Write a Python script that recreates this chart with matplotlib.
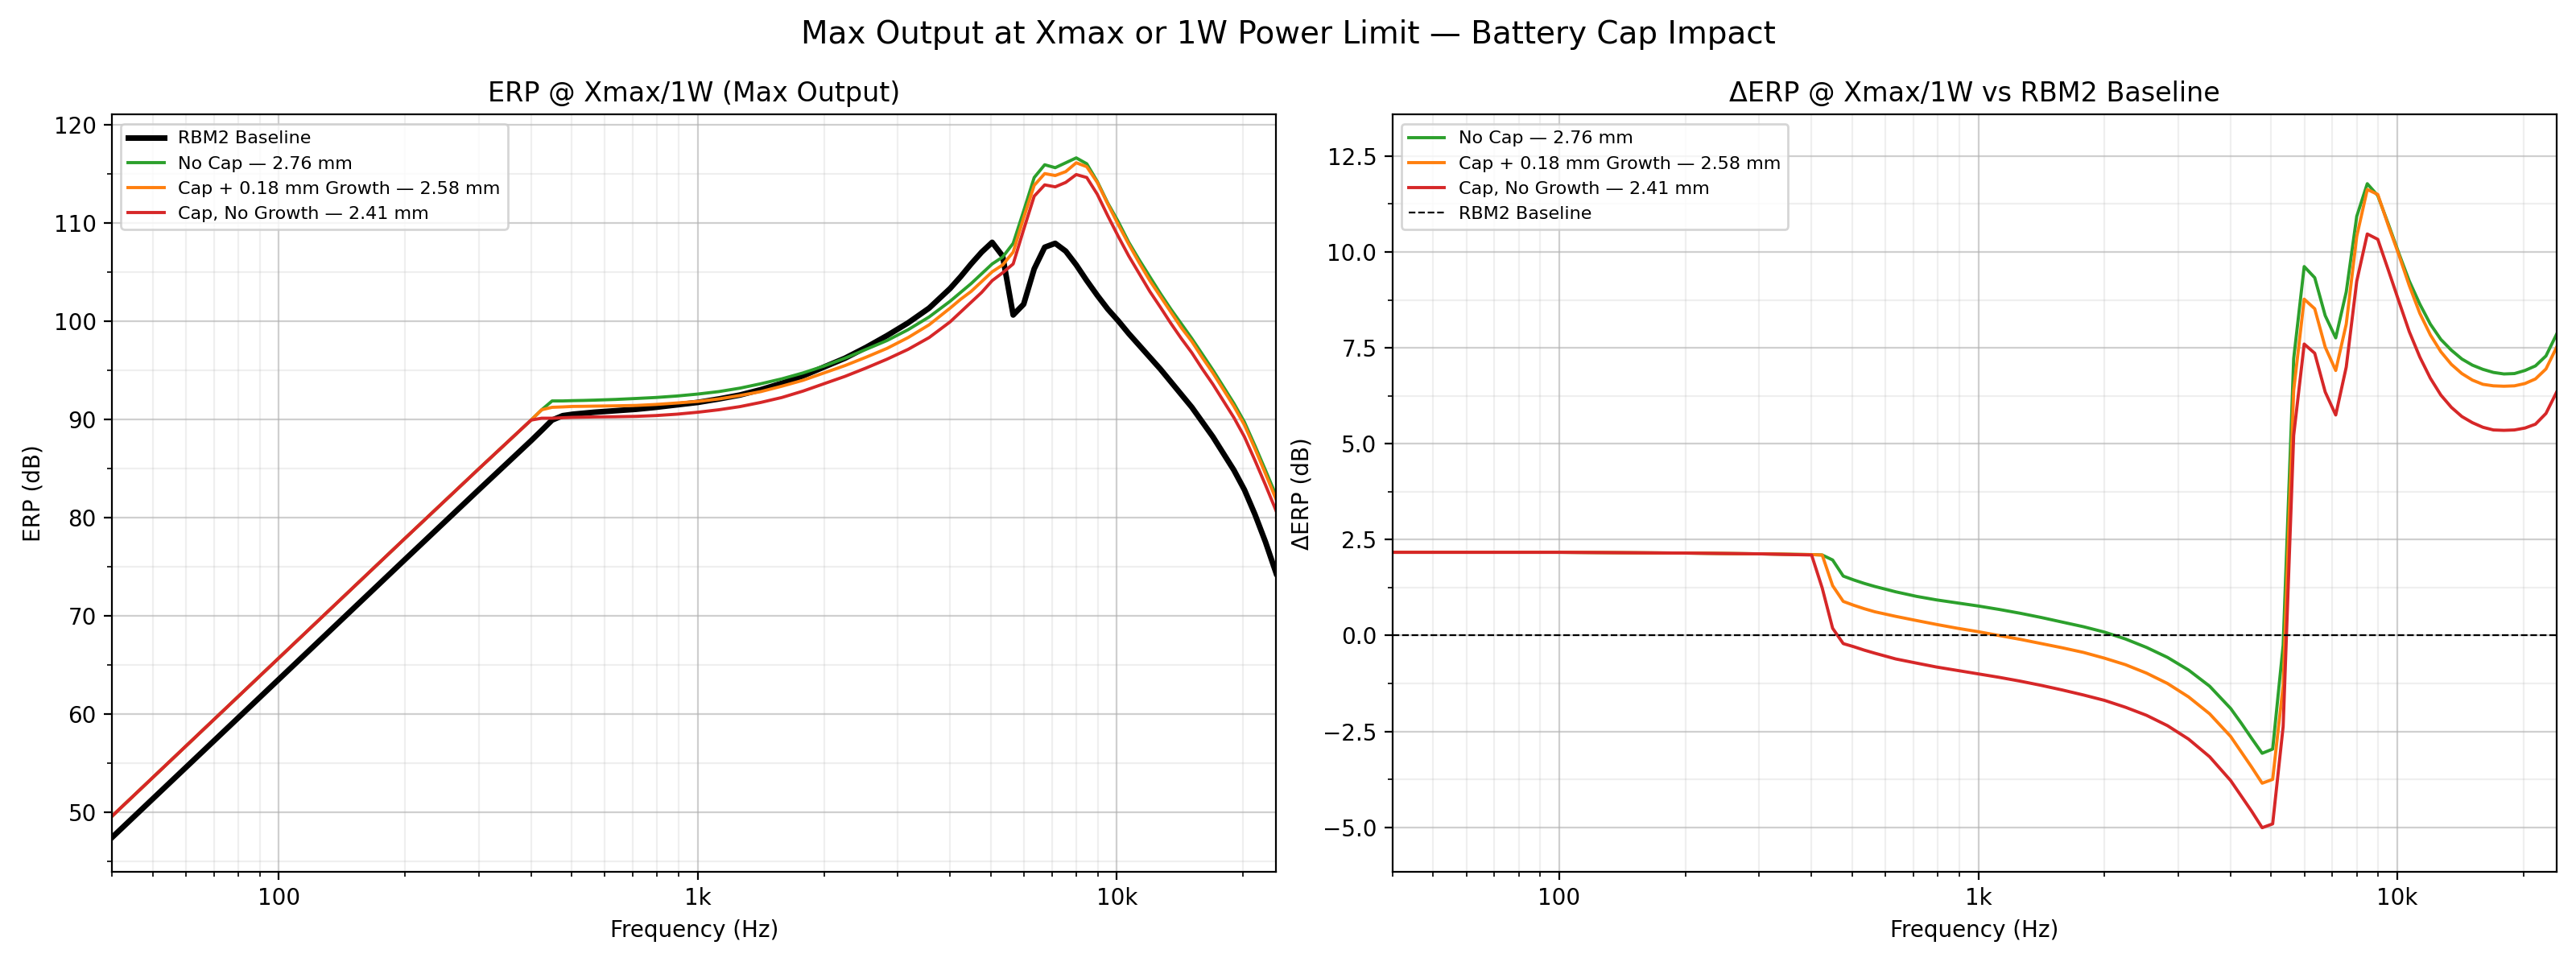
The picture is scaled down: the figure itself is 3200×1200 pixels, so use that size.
import numpy as np
import matplotlib
matplotlib.use("Agg")
from matplotlib import pyplot as plt
from matplotlib.ticker import AutoMinorLocator, FixedLocator, NullFormatter

# frequency grid (Hz)
freq = [40, 100, 200, 300, 400, 424, 449, 476, 504, 534, 566, 635, 713, 794, 891,
        1000, 1122, 1260, 1414, 1587, 1782, 2000, 2245, 2520, 2828, 3175, 3564,
        4000, 4238, 4490, 4757, 5040, 5339, 5657, 5993, 6350, 6727, 7127, 7551,
        8000, 8476, 8980, 9514, 10079, 10679, 11314, 11986, 12699, 13454, 14254,
        15102, 16000, 16951, 17959, 19027, 20159, 21357, 22627, 24000]

# ERP at Xmax / 1W (dB)
erp_base = [47.4, 63.5, 75.7, 82.8, 87.8, 88.85, 89.9, 90.35, 90.5, 90.6, 90.7, 90.85, 91.0, 91.2, 91.45,
            91.7, 92.05, 92.45, 93.0, 93.65, 94.4, 95.3, 96.2, 97.3, 98.5, 99.8, 101.3,
            103.3, 104.5, 105.8, 107.0, 108.0, 106.6, 100.6, 101.7, 105.3, 107.5, 107.9, 107.1,
            105.7, 104.1, 102.6, 101.2, 100.0, 98.7, 97.5, 96.3, 95.1, 93.8, 92.5,
            91.2, 89.7, 88.2, 86.5, 84.8, 82.8, 80.3, 77.5, 74.3]
erp_nocap = [49.57, 65.67, 77.85, 84.93, 89.9, 90.95, 91.85, 91.85, 91.88, 91.9, 91.93, 92.0, 92.1, 92.2, 92.35,
             92.55, 92.8, 93.15, 93.6, 94.1, 94.7, 95.4, 96.2, 97.1, 98.0, 99.1, 100.4,
             102.0, 102.9, 103.8, 104.8, 105.8, 106.5, 107.9, 111.2, 114.6, 115.9, 115.6, 116.1,
             116.6, 116.0, 114.2, 112.0, 110.1, 108.0, 106.2, 104.5, 102.8, 101.2, 99.7,
             98.2, 96.6, 95.0, 93.3, 91.6, 89.7, 87.3, 84.8, 82.2]
erp_growth = [49.57, 65.67, 77.85, 84.93, 89.9, 90.95, 91.2, 91.24, 91.29, 91.3, 91.32, 91.35, 91.39, 91.49, 91.64,
              91.8, 92.05, 92.4, 92.8, 93.35, 93.95, 94.7, 95.45, 96.3, 97.2, 98.3, 99.6,
              101.3, 102.2, 103.0, 104.0, 105.0, 105.7, 107.0, 110.5, 113.8, 115.0, 114.8, 115.2,
              116.1, 115.7, 114.1, 111.9, 109.8, 107.8, 105.9, 104.1, 102.5, 100.9, 99.3,
              97.9, 96.25, 94.7, 93.0, 91.3, 89.4, 87.0, 84.45, 81.8]
erp_nogrowth = [49.57, 65.67, 77.85, 84.93, 89.9, 90.09, 90.09, 90.14, 90.18, 90.2, 90.22, 90.24, 90.28, 90.36, 90.5,
                90.7, 90.95, 91.27, 91.7, 92.2, 92.85, 93.6, 94.35, 95.2, 96.1, 97.1, 98.3,
                99.9, 100.9, 101.9, 102.9, 104.1, 104.9, 105.8, 109.3, 112.7, 113.85, 113.65, 114.1,
                114.9, 114.6, 112.9, 110.7, 108.6, 106.6, 104.8, 103.0, 101.4, 99.75, 98.2,
                96.75, 95.1, 93.55, 91.85, 90.15, 88.2, 85.8, 83.3, 80.65]

# delta ERP vs RBM2 baseline (dB)
d_nocap = [2.17, 2.17, 2.15, 2.13, 2.11, 2.10, 1.97, 1.55, 1.45, 1.36, 1.28, 1.14, 1.02, 0.93, 0.85,
           0.77, 0.68, 0.58, 0.47, 0.35, 0.23, 0.09, -0.09, -0.31, -0.57, -0.90, -1.32,
           -1.90, -2.28, -2.68, -3.07, -2.96, -0.25, 7.22, 9.62, 9.33, 8.34, 7.76, 8.96,
           10.93, 11.78, 11.47, 10.73, 9.97, 9.24, 8.64, 8.12, 7.72, 7.44, 7.21,
           7.05, 6.94, 6.86, 6.82, 6.83, 6.91, 7.03, 7.29, 7.86]
d_growth = [2.17, 2.17, 2.15, 2.13, 2.11, 2.10, 1.30, 0.89, 0.79, 0.70, 0.62, 0.50, 0.39, 0.29, 0.19,
            0.10, 0.00, -0.10, -0.21, -0.32, -0.44, -0.59, -0.76, -0.98, -1.25, -1.60, -2.04,
            -2.63, -3.03, -3.43, -3.85, -3.75, -1.30, 6.39, 8.77, 8.52, 7.52, 6.91, 8.12,
            10.41, 11.63, 11.50, 10.69, 9.93, 9.12, 8.40, 7.84, 7.40, 7.07, 6.83,
            6.66, 6.55, 6.51, 6.50, 6.51, 6.57, 6.69, 6.95, 7.52]
d_nogrowth = [2.17, 2.17, 2.15, 2.13, 2.10, 1.24, 0.19, -0.21, -0.29, -0.38, -0.46, -0.61, -0.72, -0.82, -0.91,
              -1.00, -1.09, -1.19, -1.30, -1.42, -1.55, -1.69, -1.87, -2.08, -2.35, -2.70, -3.16,
              -3.78, -4.18, -4.58, -5.01, -4.91, -2.37, 5.22, 7.60, 7.36, 6.35, 5.75, 7.00,
              9.24, 10.47, 10.33, 9.53, 8.72, 7.92, 7.26, 6.71, 6.27, 5.95, 5.71,
              5.55, 5.43, 5.36, 5.35, 5.36, 5.41, 5.51, 5.79, 6.35]

configs = [
    ("No Cap \u2014 2.76 mm", "#2ca02c", erp_nocap, d_nocap),
    ("Cap + 0.18 mm Growth \u2014 2.58 mm", "#ff7f0e", erp_growth, d_growth),
    ("Cap, No Growth \u2014 2.41 mm", "#d62728", erp_nogrowth, d_nogrowth),
]


def style_freq_axis(ax):
    ax.set_xscale("log")
    ax.set_xlim(40, 24000)
    ax.xaxis.set_major_locator(FixedLocator([100, 1000, 10000]))
    ax.set_xticklabels(["100", "1k", "10k"])
    ax.xaxis.set_minor_formatter(NullFormatter())
    ax.yaxis.set_minor_locator(AutoMinorLocator(2))
    ax.grid(True, which="major", alpha=0.6)
    ax.grid(True, which="minor", alpha=0.2)
    ax.set_xlabel("Frequency (Hz)")


fig, (ax1, ax2) = plt.subplots(1, 2, figsize=(16, 6), dpi=200)

ax1.plot(freq, erp_base, color="black", lw=2.5, label="RBM2 Baseline")
for name, color, erp, _ in configs:
    ax1.plot(freq, erp, color=color, lw=1.4, label=name)
style_freq_axis(ax1)
ax1.set_ylim(43.9, 121.0)
ax1.set_ylabel("ERP (dB)")
ax1.set_title("ERP @ Xmax/1W (Max Output)")
ax1.legend(loc="upper left", fontsize=8)

for name, color, _, delta in configs:
    ax2.plot(freq, delta, color=color, lw=1.4, label=name)
ax2.axhline(0, color="black", ls="--", lw=0.8, label="RBM2 Baseline")
style_freq_axis(ax2)
ax2.set_ylim(-6.16, 13.58)
ax2.set_ylabel("\u0394ERP (dB)")
ax2.set_title("\u0394ERP @ Xmax/1W vs RBM2 Baseline")
ax2.legend(loc="upper left", fontsize=8)

fig.suptitle("Max Output at Xmax or 1W Power Limit \u2014 Battery Cap Impact", fontsize=14)
fig.subplots_adjust(left=0.0435, right=0.9925, bottom=0.0975, top=0.8813, wspace=0.1)
fig.savefig("out.png", dpi=200)
plt.close("all")
